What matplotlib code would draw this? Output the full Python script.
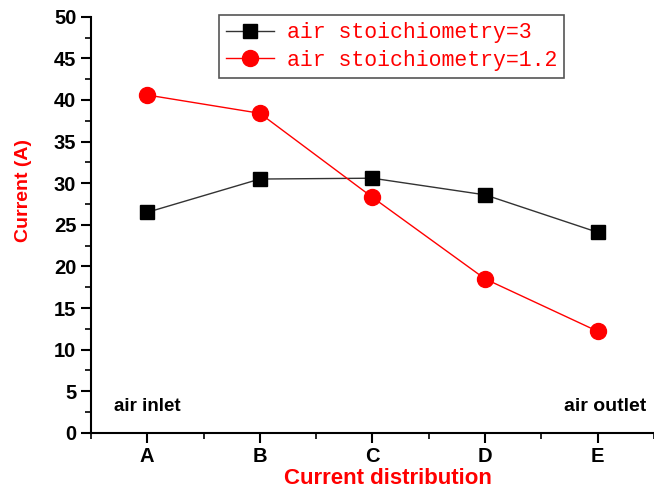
import matplotlib.pyplot as plt
from matplotlib.ticker import MultipleLocator

categories = ['A', 'B', 'C', 'D', 'E']
stoich_3 = [26.5, 30.5, 30.6, 28.6, 24.1]
stoich_12 = [40.6, 38.4, 28.3, 18.5, 12.2]

fig = plt.figure(figsize=(6.54, 4.93), dpi=100)
ax = fig.add_axes([0.139, 0.122, 0.861, 0.844])
x = list(range(len(categories)))

ax.plot(x, stoich_3, '-s', color='#333333', lw=1.0, ms=10, mfc='black', mec='black',
        label='air stoichiometry=3')
ax.plot(x, stoich_12, '-o', color='red', lw=1.0, ms=11.5, mfc='red', mec='red',
        label='air stoichiometry=1.2')

ax.set_xlim(-0.5, 4.5)
ax.set_ylim(0, 50)
ax.set_xticks(x)
ax.set_xticklabels(categories)
ax.xaxis.set_minor_locator(MultipleLocator(0.5))
ax.yaxis.set_major_locator(MultipleLocator(5))
ax.yaxis.set_minor_locator(MultipleLocator(2.5))

for s in ['top', 'right']:
    ax.spines[s].set_visible(False)
for s in ['left', 'bottom']:
    ax.spines[s].set_linewidth(1.5)
ax.tick_params(which='major', direction='out', length=7, width=1.5, labelsize=14.5)
ax.tick_params(which='minor', direction='out', length=4, width=1.2)
for lab in ax.get_xticklabels() + ax.get_yticklabels():
    lab.set_fontweight('bold')
    lab.set_family('Liberation Sans')

ax.set_ylabel('Current (A)', color='red', fontsize=14, fontweight='bold', family='Liberation Sans')
ax.yaxis.set_label_coords(-0.105, 0.582)
ax.set_xlabel('Current distribution', color='red', fontsize=16, fontweight='bold', family='Liberation Sans')
ax.xaxis.set_label_coords(0.527, -0.085)

ax.text(0, 3.2, 'air inlet', ha='center', va='center', fontsize=13.5, fontweight='bold', family='Liberation Sans')
ax.text(4.07, 3.2, 'air outlet', ha='center', va='center', fontsize=14, fontweight='bold', family='Liberation Sans')

leg = ax.legend(loc='upper left', bbox_to_anchor=(0.227, 1.005), fancybox=False, framealpha=1,
                edgecolor='#555555', prop={'family': 'Liberation Mono', 'size': 15.5},
                handlelength=2.2, borderpad=0.35, labelspacing=0.3, handletextpad=0.6,
                borderaxespad=0)
leg.get_frame().set_linewidth(1.2)
for t in leg.get_texts():
    t.set_color('red')

fig.savefig('out.png', dpi=100)
